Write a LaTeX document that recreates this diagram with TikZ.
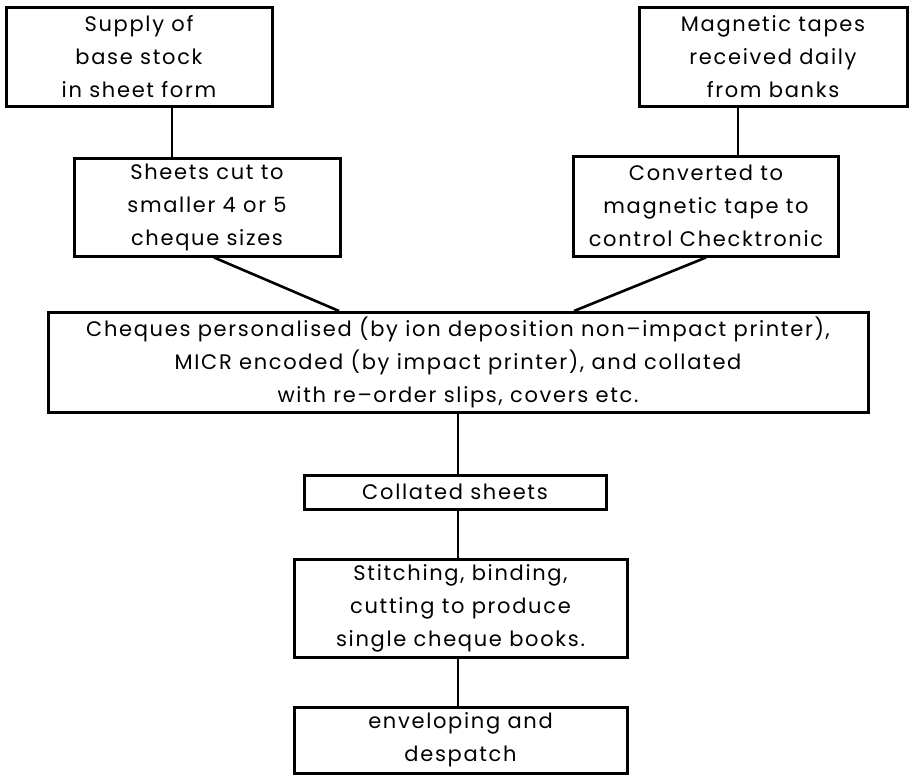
\documentclass[tikz,border=0pt]{standalone}
\usepackage{fontspec}
\setmainfont[LetterSpace=8]{Poppins}
\begin{document}
\begin{tikzpicture}[x=1pt,y=-1pt,
  procbox/.style={draw, line width=3pt, align=center, inner sep=0pt,
    font=\fontsize{21}{33}\selectfont},
  link/.style={line width=2.6pt}]
\useasboundingbox (0,0) rectangle (909,774);
\node[procbox, minimum width=266, minimum height=99] (b1) at (139,56.5)
  {Supply of\\base stock\\in sheet form};
\node[procbox, minimum width=268, minimum height=99] (b2) at (773,56.5)
  {Magnetic tapes\\received daily\\from banks};
\node[procbox, minimum width=266, minimum height=98] (b3) at (207,207)
  {Sheets cut to\\smaller 4 or 5\\cheque sizes};
\node[procbox, minimum width=265, minimum height=100] (b4) at (706,206)
  {Converted to\\magnetic tape to\\control Checktronic};
\node[procbox, minimum width=820, minimum height=100] (b5) at (458,362.5)
  {Cheques personalised (by ion deposition non--impact printer),\\
   MICR encoded (by impact printer), and collated\\
   with re--order slips, covers etc.};
\node[procbox, minimum width=302, minimum height=34] (b6) at (455,492)
  {Collated sheets};
\node[procbox, minimum width=333, minimum height=98] (b7) at (460.5,608)
  {Stitching, binding,\\cutting to produce\\single cheque books.};
\node[procbox, minimum width=333, minimum height=66] (b8) at (460.5,740)
  {enveloping and\\despatch};
\coordinate (c1) at (172,0);
\coordinate (c2) at (738,0);
\coordinate (d1) at (214,0);
\coordinate (d2) at (339,0);
\coordinate (d3) at (574,0);
\coordinate (cm) at (458,0);
\draw[link] (c1 |- b1.south) -- (c1 |- b3.north);
\draw[link] (c2 |- b2.south) -- (c2 |- b4.north);
\draw[link] (d1 |- b3.south) -- (d2 |- b5.north);
\draw[link] (b4.south) -- (d3 |- b5.north);
\draw[link] (cm |- b5.south) -- (cm |- b6.north);
\draw[link] (cm |- b6.south) -- (cm |- b7.north);
\draw[link] (cm |- b7.south) -- (cm |- b8.north);
\end{tikzpicture}
\end{document}
